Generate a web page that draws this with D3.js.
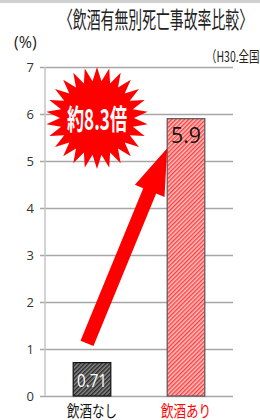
<!DOCTYPE html>
<html>
<head>
<meta charset="utf-8">
<script src="https://cdn.jsdelivr.net/npm/d3@7"></script>
<style>
  html, body { margin: 0; padding: 0; background: #fff; overflow: hidden; }
  svg { display: block; }
  .jp { font-family: "Noto Sans CJK JP", sans-serif; }
  .num { font-family: "Open Sans", "DejaVu Sans", sans-serif; }
</style>
</head>
<body>
<div id="chart"></div>
<script>
// data
const categories = ['飲酒なし', '飲酒あり'];
const values = [0.71, 5.9];
const valueLabels = ['0.71', '5.9'];
const yTicks = [0, 1, 2, 3, 4, 5, 6, 7];
const titleText = '〈飲酒有無別死亡事故率比較〉';
const unitText = '(%)';
const sourceText = '（H30.全国）';
const ratioText = '約8.3倍';

const W = 260, H = 420;
const margin = { top: 67, right: 27, bottom: 24, left: 45 };
const innerW = W - margin.left - margin.right;
const innerH = H - margin.top - margin.bottom;

const svg = d3.select('#chart').append('svg')
    .attr('width', W)
    .attr('height', H);

// top gray strip
svg.append('rect').attr('x', 0).attr('y', 0).attr('width', W).attr('height', 3).attr('fill', '#d0d0d0');

const defs = svg.append('defs');
// red hatch
const pRed = defs.append('pattern')
    .attr('id', 'hatchRed')
    .attr('patternUnits', 'userSpaceOnUse')
    .attr('width', 3).attr('height', 3)
    .attr('patternTransform', 'rotate(45)');
pRed.append('rect').attr('width', 3).attr('height', 3).attr('fill', '#ffc4c4');
pRed.append('rect').attr('width', 1.4).attr('height', 3).attr('fill', '#ff3c3c');
// dark hatch
const pDark = defs.append('pattern')
    .attr('id', 'hatchDark')
    .attr('patternUnits', 'userSpaceOnUse')
    .attr('width', 3).attr('height', 3)
    .attr('patternTransform', 'rotate(45)');
pDark.append('rect').attr('width', 3).attr('height', 3).attr('fill', '#8a8a8a');
pDark.append('rect').attr('width', 1.5).attr('height', 3).attr('fill', '#2a2a2a');

const g = svg.append('g')
    .attr('transform', `translate(${margin.left},${margin.top})`);

const x = d3.scaleBand()
    .domain(categories)
    .range([0, innerW])
    .paddingInner(0.6)
    .paddingOuter(0.3);

const y = d3.scaleLinear()
    .domain([0, 7])
    .range([innerH, 0]);

// grid lines + ticks
const yAxis = d3.axisLeft(y)
    .tickValues(yTicks)
    .tickSize(-innerW)
    .tickPadding(11)
    .tickFormat(d3.format('d'));

const yAxisG = g.append('g').call(yAxis);
yAxisG.select('.domain').remove();
yAxisG.selectAll('.tick line')
    .attr('x1', -5)
    .attr('stroke', '#a6a6a6')
    .attr('stroke-width', 1.5);
yAxisG.selectAll('.tick text')
    .attr('class', 'num')
    .attr('fill', '#333')
    .style('font-size', '13px');

// vertical axis line
g.append('line')
    .attr('x1', 0).attr('x2', 0)
    .attr('y1', y(7)).attr('y2', y(0))
    .attr('stroke', '#c4c4c4')
    .attr('stroke-width', 1.5);

// bars
const fills = ['url(#hatchDark)', 'url(#hatchRed)'];
const strokes = ['#111', '#555'];
g.selectAll('.bar')
    .data(values)
    .join('rect')
    .attr('class', 'bar')
    .attr('x', (d, i) => x(categories[i]))
    .attr('y', d => y(d))
    .attr('width', x.bandwidth())
    .attr('height', d => y(0) - y(d))
    .attr('fill', (d, i) => fills[i])
    .attr('stroke', (d, i) => strokes[i])
    .attr('stroke-width', 1.2);

// value labels
g.selectAll('.val')
    .data(values)
    .join('text')
    .attr('class', 'val num')
    .attr('x', (d, i) => x(categories[i]) + x.bandwidth() / 2)
    .attr('y', (d, i) => i === 0 ? y(d) + 24 : y(d) + 24)
    .attr('text-anchor', 'middle')
    .attr('fill', (d, i) => i === 0 ? '#fff' : '#111')
    .attr('textLength', (d, i) => i === 0 ? 30 : 30)
    .attr('lengthAdjust', 'spacingAndGlyphs')
    .style('font-size', (d, i) => i === 0 ? '19px' : '21px')
    .text((d, i) => valueLabels[i]);

// category labels
g.selectAll('.cat')
    .data(categories)
    .join('text')
    .attr('class', 'cat jp')
    .attr('x', d => x(d) + x.bandwidth() / 2)
    .attr('y', innerH + 21)
    .attr('text-anchor', 'middle')
    .attr('fill', (d, i) => i === 0 ? '#111' : '#ff0000')
    .attr('textLength', 50)
    .attr('lengthAdjust', 'spacingAndGlyphs')
    .style('font-size', '16px')
    .text(d => d);

// arrow from low bar toward high bar
const x0 = x(categories[0]) + x.bandwidth() / 2 - 5;
const y0 = y(1.12);
const x1 = x(categories[1]);
const y1 = y(5.27);
const dx = x1 - x0, dy = y1 - y0;
const len = Math.hypot(dx, dy);
const ux = dx / len, uy = dy / len;
const nx = -uy, ny = ux;
const shaftW = 7, headW = 16, headL = 46;
const bx = x1 - ux * headL, by = y1 - uy * headL;
const arrowPts = [
    [x0 + nx * shaftW, y0 + ny * shaftW],
    [bx + nx * shaftW, by + ny * shaftW],
    [bx + nx * headW, by + ny * headW],
    [x1, y1],
    [bx - nx * headW, by - ny * headW],
    [bx - nx * shaftW, by - ny * shaftW],
    [x0 - nx * shaftW, y0 - ny * shaftW]
];
g.append('polygon')
    .attr('points', arrowPts.map(p => p.join(',')).join(' '))
    .attr('fill', '#ff0000');

// starburst
const cx = 97 - margin.left, cy = 118 - margin.top;
const spikes = 26, rOut = 51, rIn = 37;
const starPts = d3.range(spikes * 2).map(i => {
    const a = Math.PI * i / spikes - Math.PI / 2;
    const r = i % 2 === 0 ? rOut : rIn;
    return [cx + r * Math.cos(a), cy + r * Math.sin(a)];
});
g.append('polygon')
    .attr('points', starPts.map(p => p.join(',')).join(' '))
    .attr('fill', '#ff0000');
g.append('text')
    .attr('class', 'jp')
    .attr('x', cx)
    .attr('y', cy + 12)
    .attr('text-anchor', 'middle')
    .attr('fill', '#fff')
    .attr('font-weight', 'bold')
    .attr('textLength', 60)
    .attr('lengthAdjust', 'spacingAndGlyphs')
    .style('font-size', '28px')
    .text(ratioText);

// title, unit, source
svg.append('text')
    .attr('class', 'jp')
    .attr('x', 59).attr('y', 28)
    .attr('textLength', 194)
    .attr('lengthAdjust', 'spacingAndGlyphs')
    .attr('fill', '#222')
    .style('font-size', '23px')
    .text(titleText);

svg.append('text')
    .attr('class', 'num')
    .attr('x', 14).attr('y', 48)
    .attr('fill', '#222')
    .style('font-size', '16px')
    .text(unitText);

svg.append('text')
    .attr('class', 'jp')
    .attr('x', 206).attr('y', 62)
    .attr('textLength', 64)
    .attr('lengthAdjust', 'spacingAndGlyphs')
    .attr('fill', '#222')
    .style('font-size', '15px')
    .text(sourceText);
</script>
</body>
</html>
